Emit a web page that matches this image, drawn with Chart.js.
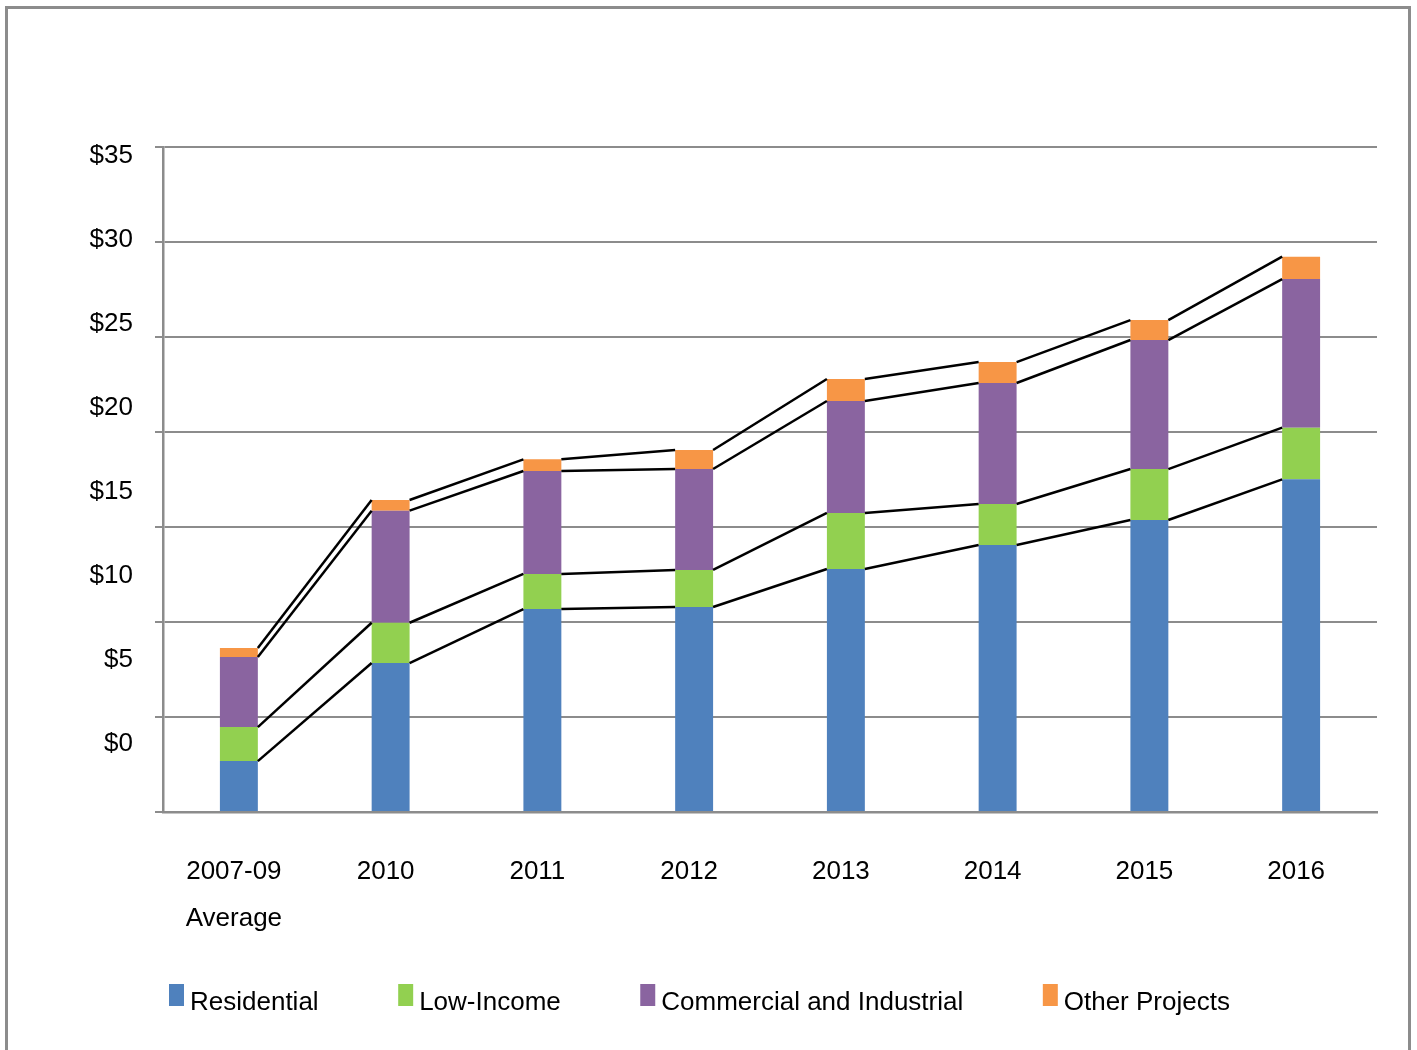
<!DOCTYPE html>
<html>
<head>
<meta charset="utf-8">
<script src="https://cdn.jsdelivr.net/npm/chart.js@4/dist/chart.umd.min.js"></script>
<style>
  html, body { margin: 0; padding: 0; background: #ffffff; }
  #wrap { position: relative; width: 1417px; height: 1050px; overflow: hidden; }
  #frame { position: absolute; left: 5px; top: 6px; width: 1406px; height: 1100px;
           border: 3px solid #8c8c8c; box-sizing: border-box; }
  canvas { position: absolute; left: 0; top: 0; }
</style>
</head>
<body>
<div id="wrap">
  <div id="frame"></div>
  <canvas id="c" width="1417" height="1050"></canvas>
</div>
<script>
// ---- data ----
const categories = [['2007-09', 'Average'], '2010', '2011', '2012', '2013', '2014', '2015', '2016'];
const residential = [2.68, 7.84, 10.68, 10.79, 12.79, 14.05, 15.37, 17.51];
const lowIncome = [1.79, 2.12, 1.85, 1.95, 2.95, 2.16, 2.68, 2.72];
const commercialIndustrial = [3.69, 5.90, 5.42, 5.31, 5.89, 6.37, 6.79, 7.82];
const otherProjects = [0.47, 0.56, 0.61, 1.00, 1.16, 1.10, 1.05, 1.18];
const yTickValues = [0, 5, 10, 15, 20, 25, 30, 35];
const seriesNames = ['Residential', 'Low-Income', 'Commercial and Industrial', 'Other Projects'];
const seriesColors = ['#4F81BD', '#92D050', '#8A64A0', '#F79646'];

const FONT = '"Liberation Sans", Arial, sans-serif';
const GRID = '#8c8c8c';

// legend marker: tall rectangle, raised relative to the text, close to the label
function makeMarker(color) {
  const cv = document.createElement('canvas');
  cv.width = 46; cv.height = 37;
  const g = cv.getContext('2d');
  g.fillStyle = color;
  g.fillRect(30, 0, 15, 22);
  return cv;
}
const markers = seriesColors.map(makeMarker);

// series lines between stacked bars
const seriesLines = {
  id: 'seriesLines',
  afterDatasetsDraw(chart) {
    const ctx = chart.ctx;
    ctx.save();
    ctx.strokeStyle = '#000000';
    ctx.lineWidth = 2.5;
    chart.data.datasets.forEach((ds, i) => {
      const meta = chart.getDatasetMeta(i);
      for (let j = 0; j < meta.data.length - 1; j++) {
        const a = meta.data[j], b = meta.data[j + 1];
        ctx.beginPath();
        ctx.moveTo(a.x + a.width / 2, a.y);
        ctx.lineTo(b.x - b.width / 2, b.y);
        ctx.stroke();
      }
    });
    ctx.restore();
  }
};

const seriesData = [residential, lowIncome, commercialIndustrial, otherProjects];

new Chart(document.getElementById('c'), {
  type: 'bar',
  data: {
    labels: categories,
    datasets: seriesData.map((d, i) => ({
      label: seriesNames[i],
      data: d,
      backgroundColor: seriesColors[i],
      borderWidth: 0,
      yAxisID: 'y',
      categoryPercentage: 1,
      barPercentage: 0.25,
      pointStyle: markers[i]
    }))
  },
  options: {
    responsive: false,
    animation: false,
    devicePixelRatio: 1,
    layout: { padding: { top: 147, left: 89.5, right: 40, bottom: 24.5 } },
    plugins: {
      tooltip: { enabled: false },
      legend: {
        position: 'bottom',
        align: 'start',
        labels: {
          usePointStyle: true,
          pointStyleWidth: 30,
          boxHeight: 26,
          padding: 57.5,
          color: '#000000',
          font: { family: FONT, size: 26 }
        }
      }
    },
    scales: {
      x: {
        stacked: true,
        grid: { display: false, drawTicks: false },
        border: { display: true, color: GRID, width: 2.5 },
        ticks: {
          color: '#000000',
          font: { family: FONT, size: 26, lineHeight: '47px' },
          padding: 36,
          labelOffset: -5,
          maxRotation: 0,
          autoSkip: false
        },
        afterFit(scale) { scale.height = 120; }
      },
      y: {
        stacked: true,
        position: 'left',
        weight: 0,
        min: 0,
        max: 35,
        ticks: { display: false, stepSize: 5 },
        grid: { color: GRID, lineWidth: 2, tickLength: 8, drawTicks: true },
        border: { display: true, color: GRID, width: 2.5 },
        afterFit(scale) { scale.width = 8; }
      },
      yLabels: {
        position: 'left',
        weight: 10,
        min: -4.08,
        max: 35.54,
        grid: { display: false, drawTicks: false },
        border: { display: false },
        afterBuildTicks(scale) { scale.ticks = yTickValues.map(v => ({ value: v })); },
        ticks: {
          color: '#000000',
          font: { family: FONT, size: 26 },
          padding: 22,
          callback: v => '$' + v
        },
        afterFit(scale) { scale.width = 65.5; }
      }
    }
  },
  plugins: [seriesLines]
});
</script>
</body>
</html>
